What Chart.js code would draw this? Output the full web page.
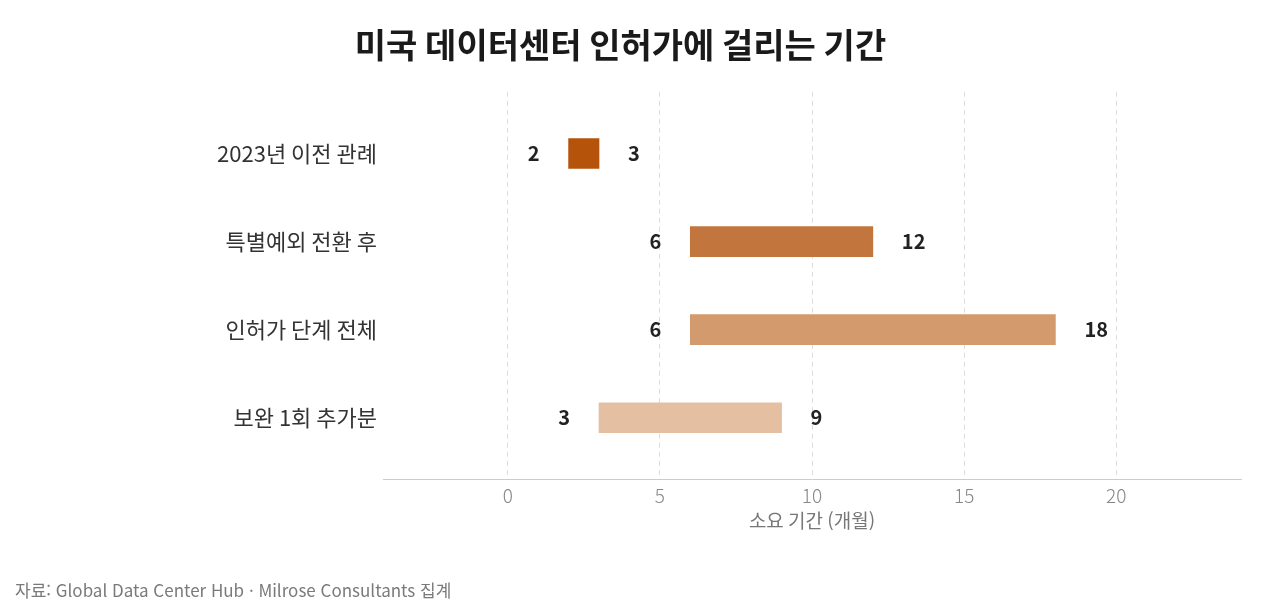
<!DOCTYPE html>
<html lang="ko">
<head>
<meta charset="utf-8">
<title>미국 데이터센터 인허가에 걸리는 기간</title>
<script src="https://cdn.jsdelivr.net/npm/chart.js@4.4.1/dist/chart.umd.min.js"></script>
<style>
  html, body { margin: 0; padding: 0; background: #fff; }
  #wrap { position: relative; width: 1280px; height: 615px; }
  #source {
    position: absolute; left: 15px; top: 577px;
    font-family: "Noto Sans CJK KR", "Noto Sans", sans-serif;
    font-size: 17px; color: #7a7a7a;
  }
</style>
</head>
<body>
<div id="wrap">
  <canvas id="myChart" width="1280" height="615"></canvas>
  <div id="source">자료: Global Data Center Hub · Milrose Consultants 집계</div>
</div>
<script>
// 데이터
const categories = ["2023년 이전 관례", "특별예외 전환 후", "인허가 단계 전체", "보완 1회 추가분"];
const startMonths = [2, 6, 6, 3];
const endMonths = [3, 12, 18, 9];
const xTicks = [0, 5, 10, 15, 20];
const barColors = ["#b5530b", "#c2753c", "#d39a6e", "#e4bfa1"];

const FONT = '"Noto Sans CJK KR", "Noto Sans", sans-serif';

// 막대 양 끝에 값 표시
const endLabels = {
  id: "endLabels",
  afterDatasetsDraw(chart) {
    const ctx = chart.ctx;
    const meta = chart.getDatasetMeta(0);
    ctx.save();
    ctx.font = "bold 20px " + FONT;
    ctx.fillStyle = "#222";
    ctx.textBaseline = "middle";
    meta.data.forEach((bar, i) => {
      const left = Math.min(bar.x, bar.base);
      const right = Math.max(bar.x, bar.base);
      ctx.textAlign = "right";
      ctx.fillText(String(startMonths[i]), left - 29, bar.y);
      ctx.textAlign = "left";
      ctx.fillText(String(endMonths[i]), right + 29, bar.y);
    });
    ctx.restore();
  }
};

const ctx = document.getElementById("myChart").getContext("2d");
const myChart = new Chart(ctx, {
  type: "bar",
  data: {
    datasets: [{
      data: categories.map((c, i) => ({ y: i, x: [startMonths[i], endMonths[i]] })),
      backgroundColor: barColors,
      borderWidth: 0,
      barThickness: 30,
      borderSkipped: false
    }]
  },
  options: {
    indexAxis: "y",
    responsive: false,
    animation: false,
    layout: { padding: { left: 0, right: 39, top: 0, bottom: 79 } },
    plugins: {
      legend: { display: false },
      tooltip: { enabled: false },
      title: {
        display: true,
        text: "미국 데이터센터 인허가에 걸리는 기간",
        color: "#1a1a1a",
        font: { family: FONT, size: 34, weight: "bold" },
        padding: { top: 25, bottom: 26 }
      }
    },
    scales: {
      x: {
        type: "linear",
        min: -4.1,
        max: 24.1,
        afterBuildTicks: (s) => { s.ticks = xTicks.map(v => ({ value: v })); },
        grid: { color: "#dcdcdc", lineWidth: 1, drawTicks: false },
        border: { display: true, color: "#cccccc", width: 1, dash: [5, 4] },
        ticks: {
          color: "#888",
          padding: 5,
          font: { family: FONT, size: 19, weight: 300 }
        },
        title: {
          display: true,
          text: "소요 기간 (개월)",
          color: "#777",
          font: { family: FONT, size: 19 },
          padding: { top: -3, bottom: 4 }
        }
      },
      y: {
        type: "linear",
        reverse: true,
        offset: false,
        min: -0.7,
        max: 3.7,
        afterBuildTicks: (s) => { s.ticks = categories.map((c, i) => ({ value: i })); },
        afterFit: (s) => { s.width = 383; },
        grid: { display: false, drawTicks: false },
        border: { display: false },
        ticks: {
          color: "#333",
          padding: 6,
          font: { family: FONT, size: 22 },
          callback: (v) => categories[v]
        }
      }
    }
  },
  plugins: [endLabels]
});
</script>
</body>
</html>
